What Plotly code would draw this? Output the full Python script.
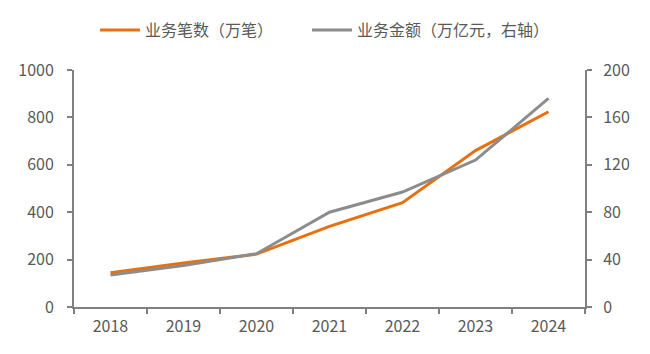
import plotly.graph_objects as go

years = ["2018", "2019", "2020", "2021", "2022", "2023", "2024"]
count_wan = [145, 186, 223, 340, 440, 660, 824]      # 业务笔数（万笔）
amount_wanyi = [27, 35, 45, 80, 97, 124, 176]         # 业务金额（万亿元）

font_family = "Noto Sans CJK SC, Noto Sans, sans-serif"
axis_color = "#808080"
text_color = "#595959"

fig = go.Figure()
fig.add_trace(go.Scatter(
    x=years, y=count_wan, mode="lines", name="业务笔数（万笔）",
    line=dict(color="#E8700E", width=3), yaxis="y", legend="legend"))
fig.add_trace(go.Scatter(
    x=years, y=amount_wanyi, mode="lines", name="业务金额（万亿元，右轴）",
    line=dict(color="#8C8C8C", width=3), yaxis="y2", legend="legend2"))

legend_common = dict(orientation="h", xanchor="left", xref="container",
                     y=0.963, yanchor="top", yref="container",
                     font=dict(size=16, color=text_color), itemwidth=40)

fig.update_layout(
    width=650, height=354,
    margin=dict(l=74, r=65, t=70, b=47, autoexpand=False),
    paper_bgcolor="white", plot_bgcolor="white",
    font=dict(family=font_family, size=16, color=text_color),
    showlegend=True,
    legend=dict(x=95 / 650, **legend_common),
    legend2=dict(x=307 / 650, **legend_common),
    xaxis=dict(type="category", range=[-0.5, 6.5], showline=True, linecolor=axis_color,
               linewidth=2, ticks="outside", tickson="boundaries", ticklen=5,
               tickcolor=axis_color, tickwidth=2, showgrid=False, zeroline=False,
               ticklabelstandoff=4, tickfont=dict(size=16, color=text_color)),
    yaxis=dict(range=[0, 1000], dtick=200, showline=True, linecolor=axis_color,
               linewidth=2, ticks="outside", ticklen=5, tickcolor=axis_color, tickwidth=2,
               showgrid=False, zeroline=False, ticklabelstandoff=10,
               tickfont=dict(size=16, color=text_color)),
    yaxis2=dict(range=[0, 200], dtick=40, overlaying="y", side="right", showline=True,
                linecolor=axis_color, linewidth=2, ticks="outside", ticklen=5,
                tickcolor=axis_color, tickwidth=2, showgrid=False, zeroline=False,
                ticklabelstandoff=8, tickfont=dict(size=16, color=text_color)),
)

fig.write_html("out.html")
